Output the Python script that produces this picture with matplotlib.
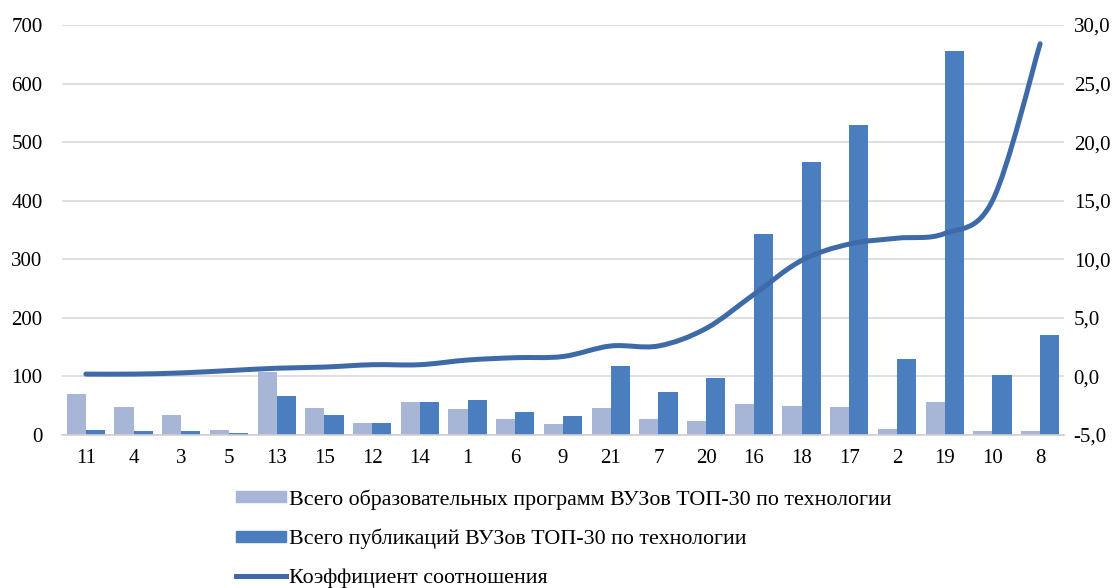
import matplotlib
matplotlib.use("Agg")
import matplotlib.pyplot as plt
import numpy as np
from matplotlib.path import Path
from matplotlib.patches import PathPatch
from matplotlib.lines import Line2D
from matplotlib.ticker import FuncFormatter

categories = ["11", "4", "3", "5", "13", "15", "12", "14", "1", "6", "9",
              "21", "7", "20", "16", "18", "17", "2", "19", "10", "8"]
programs = [70, 48, 34, 8, 108, 46, 20, 56, 44, 27, 19,
            46, 28, 24, 53, 50, 48, 11, 56, 7, 6]
publications = [8, 6, 6, 4, 67, 34, 20, 56, 60, 40, 32,
                117, 73, 97, 344, 466, 529, 129, 655, 102, 170]
ratio = [0.2, 0.2, 0.3, 0.5, 0.7, 0.8, 1.0, 1.0, 1.4, 1.6, 1.7,
         2.6, 2.6, 4.1, 7.0, 9.9, 11.3, 11.8, 12.2, 15.0, 28.4]

label_prog = "Всего образовательных программ ВУЗов ТОП-30 по технологии"
label_pub = "Всего публикаций ВУЗов ТОП-30 по технологии"
label_ratio = "Коэффициент соотношения"

c_light = "#A7B6D6"
c_dark = "#4A7EBE"
c_line = "#3E6BA7"

plt.rcParams["font.family"] = ["Liberation Serif", "DejaVu Serif"]

fig = plt.figure(figsize=(11.12, 5.88), dpi=100)
ax = fig.add_axes([62/1112, 1-435/588, (1064-62)/1112, (435-25)/588])
ax2 = ax.twinx()

x = np.arange(len(categories))
w = 0.4
ax.bar(x - w/2, programs, width=w, color=c_light, zorder=2)
ax.bar(x + w/2, publications, width=w, color=c_dark, zorder=2)

ax.set_ylim(0, 700)
ax.set_yticks(range(0, 701, 100))
ax.set_xlim(-0.5, len(categories) - 0.5)
ax.set_xticks(x)
ax.set_xticklabels(categories)
ax.grid(axis="y", color="#D9D9D9", linewidth=1.2, zorder=0)
ax.set_axisbelow(True)
for s in ["top", "left", "right"]:
    ax.spines[s].set_visible(False)
ax.spines["bottom"].set_color("#D0D0D0")
ax.spines["bottom"].set_linewidth(1.2)
ax.tick_params(axis="both", length=0, labelsize=15)
ax.tick_params(axis="y", pad=14)
ax.tick_params(axis="x", pad=10)

ax2.set_ylim(-5, 30)
ax2.set_yticks(np.arange(-5, 30.1, 5))
ax2.yaxis.set_major_formatter(FuncFormatter(lambda v, p: f"{v:.1f}".replace(".", ",")))
for s in ax2.spines.values():
    s.set_visible(False)
ax2.tick_params(axis="y", length=0, labelsize=15, pad=7)

# smoothed line (Catmull-Rom -> cubic Bezier)
px = x.astype(float)
py = np.array(ratio, dtype=float)
verts = [(px[0], py[0])]
codes = [Path.MOVETO]
n = len(px)
t = 1/6
for i in range(n - 1):
    p0 = (px[max(i-1, 0)], py[max(i-1, 0)])
    p1 = (px[i], py[i])
    p2 = (px[i+1], py[i+1])
    p3 = (px[min(i+2, n-1)], py[min(i+2, n-1)])
    c1 = (p1[0] + (p2[0]-p0[0])*t, p1[1] + (p2[1]-p0[1])*t)
    c2 = (p2[0] - (p3[0]-p1[0])*t, p2[1] - (p3[1]-p1[1])*t)
    verts += [c1, c2, p2]
    codes += [Path.CURVE4]*3
patch = PathPatch(Path(verts, codes), facecolor="none", edgecolor=c_line,
                  linewidth=3.6, capstyle="round", zorder=3)
ax2.add_patch(patch)

handles = [
    plt.Rectangle((0, 0), 1, 1, color=c_light),
    plt.Rectangle((0, 0), 1, 1, color=c_dark),
    Line2D([0], [0], color=c_line, linewidth=3.6),
]
leg = fig.legend(handles, [label_prog, label_pub, label_ratio],
                 loc="upper left", bbox_to_anchor=(236/1112, 1-489/588),
                 frameon=False, fontsize=15.8, labelspacing=0.88,
                 handlelength=2.3, handleheight=0.4, handletextpad=0.1,
                 borderpad=0, borderaxespad=0)

fig.savefig("out.png", dpi=100)
